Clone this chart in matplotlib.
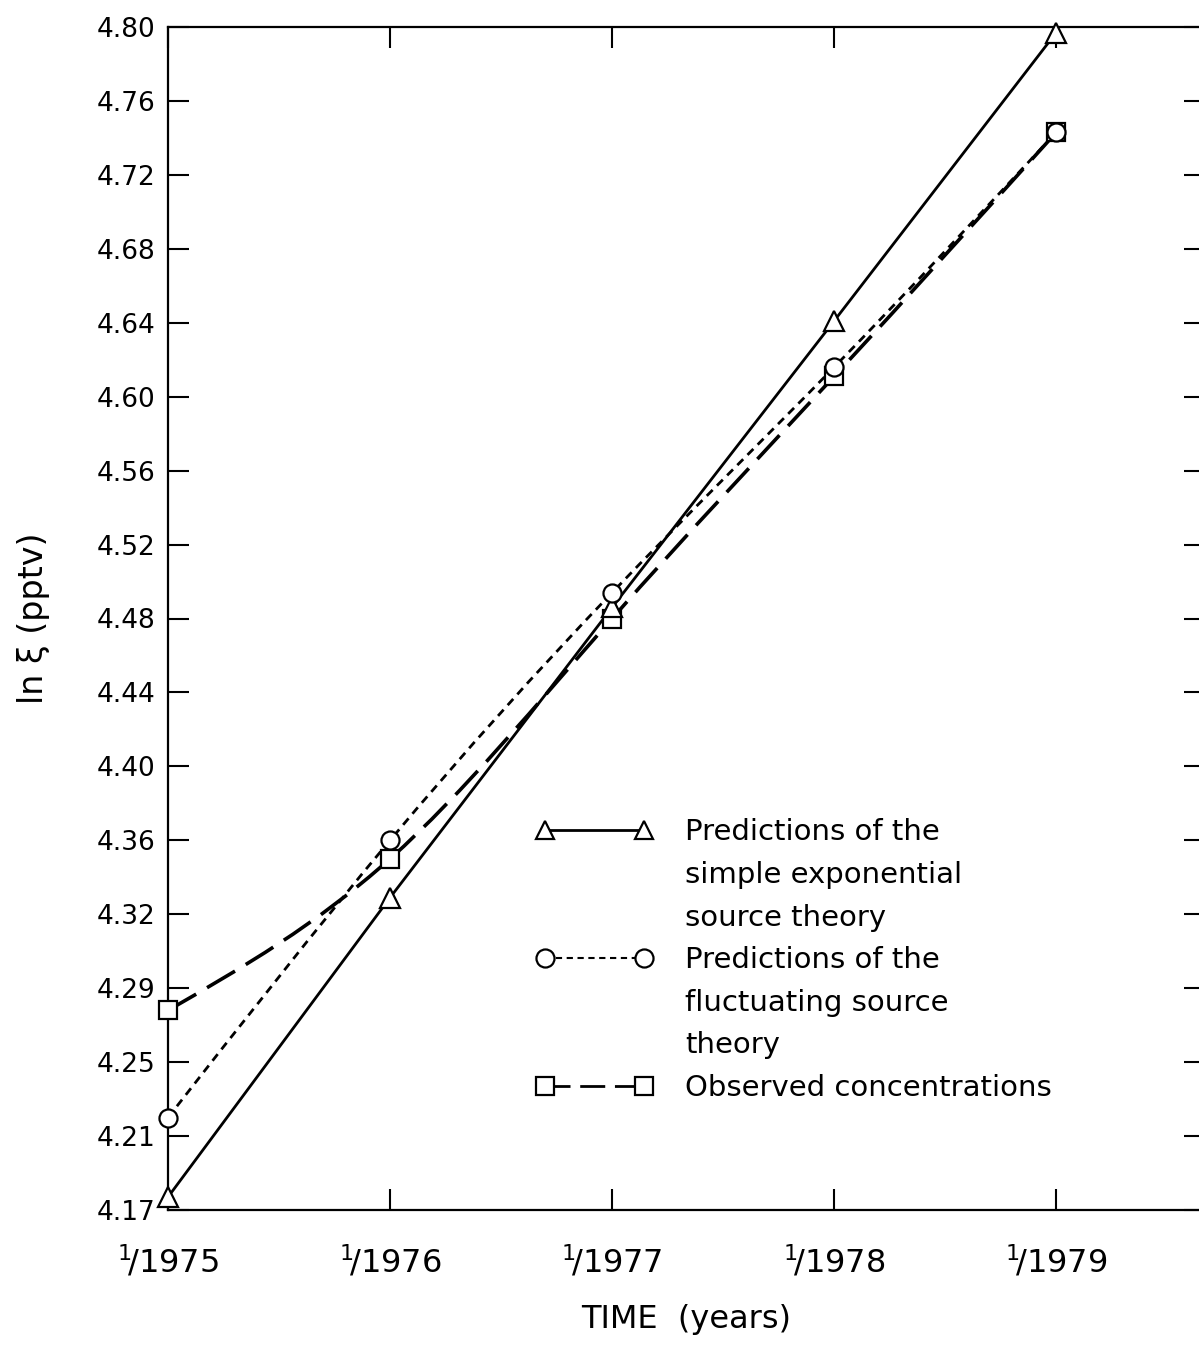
import numpy as np
import matplotlib
matplotlib.use("Agg")
import matplotlib.pyplot as plt
from matplotlib.lines import Line2D
from matplotlib.path import Path
from matplotlib.patches import PathPatch
from matplotlib.ticker import FixedLocator, FixedFormatter

plt.rcParams['font.family'] = ['DejaVu Sans']
plt.rcParams['mathtext.fontset'] = 'dejavusans'

# Data: ln of mixing ratio (pptv) at the start of each year
years = [1975, 1976, 1977, 1978, 1979]
simple_exp = [4.177, 4.329, 4.486, 4.641, 4.797]
fluctuating = [4.220, 4.360, 4.494, 4.616, 4.743]
observed = [4.278, 4.350, 4.480, 4.611, 4.743]

series_labels = ["Predictions of the\nsimple exponential\nsource theory",
                 "Predictions of the\nfluctuating source\ntheory",
                 "Observed concentrations"]

# y-axis tick labels (evenly spaced on the axis, as printed)
y_ticks = [4.17, 4.21, 4.25, 4.29, 4.32, 4.36, 4.40, 4.44, 4.48,
           4.52, 4.56, 4.60, 4.64, 4.68, 4.72, 4.76, 4.80]
x_labels = [r"$\mathregular{^{1}\!/1975}$", r"$\mathregular{^{1}\!/1976}$",
            r"$\mathregular{^{1}\!/1977}$", r"$\mathregular{^{1}\!/1978}$",
            r"$\mathregular{^{1}\!/1979}$"]

tick_idx = np.arange(len(y_ticks), dtype=float)


def to_pos(v):
    return np.interp(v, y_ticks, tick_idx)


def from_pos(p):
    return np.interp(p, tick_idx, y_ticks)


def spline_path(xs, ys):
    """Natural cubic spline through the points (in axis units), as bezier segments."""
    x = np.asarray(xs, float)
    y = to_pos(np.asarray(ys, float))
    n = len(x)
    h = np.diff(x)
    A = np.zeros((n, n))
    rhs = np.zeros(n)
    A[0, 0] = A[-1, -1] = 1
    for i in range(1, n - 1):
        A[i, i - 1] = h[i - 1]
        A[i, i] = 2 * (h[i - 1] + h[i])
        A[i, i + 1] = h[i]
        rhs[i] = 6 * ((y[i + 1] - y[i]) / h[i] - (y[i] - y[i - 1]) / h[i - 1])
    M = np.linalg.solve(A, rhs)
    verts = [(x[0], y[0])]
    codes = [Path.MOVETO]
    for i in range(n - 1):
        s = (y[i + 1] - y[i]) / h[i]
        m0 = s - h[i] * (2 * M[i] + M[i + 1]) / 6
        m1 = s + h[i] * (M[i] + 2 * M[i + 1]) / 6
        verts += [(x[i] + h[i] / 3, y[i] + h[i] / 3 * m0),
                  (x[i + 1] - h[i] / 3, y[i + 1] - h[i] / 3 * m1),
                  (x[i + 1], y[i + 1])]
        codes += [Path.CURVE4] * 3
    verts = np.array(verts)
    verts[:, 1] = from_pos(verts[:, 1])
    return Path(verts, codes)


fig = plt.figure(figsize=(11.99, 13.48), dpi=100)
ax = fig.add_axes([168 / 1199, 138 / 1348, (1205 - 168) / 1199, (1210 - 27) / 1348])
ax.set_yscale('function', functions=(to_pos, from_pos))
ax.set_ylim(4.17, 4.80)
ax.set_xlim(1975, 1979.67)

lw = 2.0
msize = 14
dotted = (0, (3.0, 2.2))
longdash = (0, (9, 3.5))

# simple exponential: straight segments
ax.plot(years, simple_exp, color='k', lw=lw, zorder=2)
# fluctuating and observed: smooth curves
ax.add_patch(PathPatch(spline_path(years, fluctuating), fill=False, edgecolor='k',
                       lw=lw, linestyle=dotted, zorder=2))
ax.add_patch(PathPatch(spline_path(years, observed), fill=False, edgecolor='k',
                       lw=lw + 0.6, linestyle=longdash, zorder=2))

ax.plot(years, simple_exp, linestyle='none', marker='^', ms=msize, mfc='white',
        mec='k', mew=1.6, zorder=4, clip_on=False)
ax.plot(years, fluctuating, linestyle='none', marker='o', ms=msize - 1, mfc='white',
        mec='k', mew=1.6, zorder=4, clip_on=False)
ax.plot(years, observed, linestyle='none', marker='s', ms=msize - 1.5, mfc='white',
        mec='k', mew=1.6, zorder=3, clip_on=False)

ax.yaxis.set_major_locator(FixedLocator(y_ticks))
ax.yaxis.set_major_formatter(FixedFormatter(["%.2f" % v for v in y_ticks]))
ax.yaxis.set_minor_locator(FixedLocator([]))
ax.set_xticks(years)
ax.set_xticklabels(x_labels)

for sp in ax.spines.values():
    sp.set_linewidth(1.6)
ax.tick_params(axis='both', direction='in', length=15, width=1.5,
               top=True, right=True)
ax.tick_params(axis='y', labelsize=19, pad=9)
ax.tick_params(axis='x', labelsize=23, pad=24)

ax.set_ylabel("ln ξ (pptv)", fontsize=24, labelpad=34)
ax.set_xlabel("TIME  (years)", fontsize=23, labelpad=18)

# legend: handle on the first line of each entry
styles = [dict(linestyle='-', marker='^', lw=lw),
          dict(linestyle=dotted, marker='o', lw=1.5),
          dict(linestyle=longdash, marker='s', lw=lw)]
handles, labels = [], []
for lab, st in zip(series_labels, styles):
    rows = lab.split('\n')
    handles.append(Line2D([], [], color='k', ms=msize - 1, mfc='white', mec='k',
                          mew=1.6, **st))
    labels.append(rows[0])
    for r in rows[1:]:
        handles.append(Line2D([], [], linestyle='none'))
        labels.append(r)

ax.legend(handles, labels, loc='upper left', bbox_to_anchor=(0.355, 0.331),
          frameon=False, fontsize=21, numpoints=2, handlelength=4.0,
          handletextpad=1.1, borderpad=0, labelspacing=0.5, borderaxespad=0)

fig.savefig("out.png", dpi=100)
